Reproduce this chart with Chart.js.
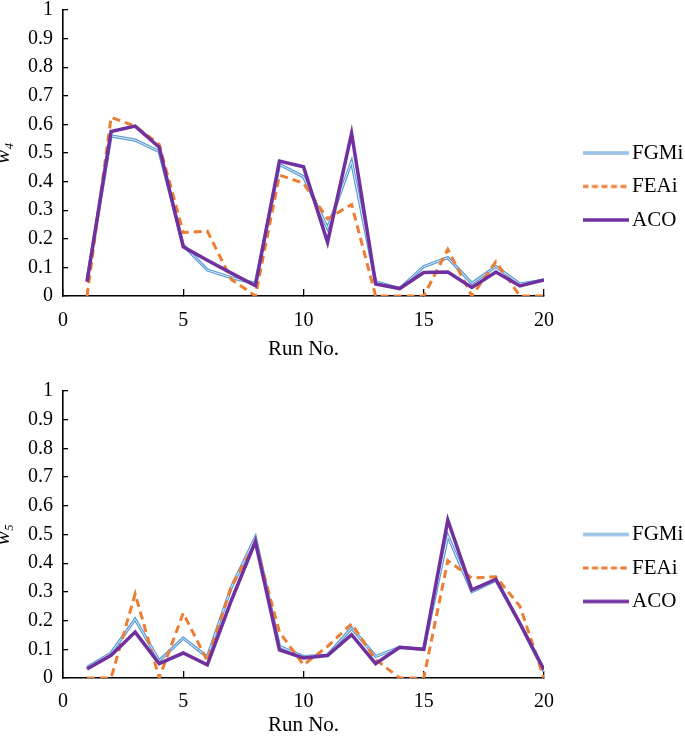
<!DOCTYPE html>
<html>
<head>
<meta charset="utf-8">
<script src="https://cdn.jsdelivr.net/npm/chart.js@4.4.1/dist/chart.umd.min.js"></script>
<style>
  html, body { margin: 0; padding: 0; background: #fff; }
  #wrap { position: relative; width: 685px; height: 739px; }
  canvas { position: absolute; left: 0; }
</style>
</head>
<body>
<div id="wrap">
  <canvas id="chartW4" width="685" height="370" style="top:0"></canvas>
  <canvas id="chartW5" width="685" height="369" style="top:370px"></canvas>
</div>
<script>
// run numbers on the x axis
const runs = [1, 2, 3, 4, 5, 6, 7, 8, 9, 10, 11, 12, 13, 14, 15, 16, 17, 18, 19, 20];
const seriesNames = ['FGMi', 'FEAi', 'ACO'];

// weight w4 per run
const w4FGMi = [0.055, 0.56, 0.545, 0.505, 0.178, 0.091, 0.064, 0.044, 0.46, 0.417, 0.237, 0.47, 0.05, 0.026, 0.103, 0.134, 0.044, 0.103, 0.042, 0.056];
const w4FEAi = [0, 0.625, 0.594, 0.53, 0.222, 0.227, 0.058, 0, 0.423, 0.394, 0.27, 0.32, 0, 0, 0, 0.163, 0, 0.12, 0, 0];
const w4ACO  = [0.05, 0.575, 0.594, 0.52, 0.172, 0.125, 0.08, 0.036, 0.472, 0.452, 0.188, 0.569, 0.042, 0.026, 0.082, 0.084, 0.03, 0.084, 0.035, 0.056];

// weight w5 per run
const w5FGMi = [0.037, 0.087, 0.205, 0.06, 0.139, 0.073, 0.316, 0.49, 0.11, 0.075, 0.08, 0.174, 0.075, 0.107, 0.1, 0.496, 0.301, 0.34, 0.19, 0.023];
const w5FEAi = [0, 0, 0.293, 0, 0.226, 0.06, 0.32, 0.47, 0.16, 0.046, 0.11, 0.189, 0.064, 0, 0, 0.409, 0.348, 0.353, 0.25, 0];
const w5ACO  = [0.031, 0.079, 0.16, 0.05, 0.087, 0.046, 0.27, 0.475, 0.098, 0.07, 0.078, 0.151, 0.05, 0.107, 0.1, 0.55, 0.307, 0.344, 0.19, 0.029];

const blue = '#5b9bd5';
const blueCore = '#dfeaf6';
const orange = '#ed7d31';
const purple = '#7030a0';
const serif = "'Liberation Serif', 'Times New Roman', serif";

Chart.defaults.font.family = serif;
Chart.defaults.color = '#000';

function points(values) {
  return values.map((v, i) => ({ x: runs[i], y: v }));
}

// small canvases used as legend samples
function sample(kind) {
  const c = document.createElement('canvas');
  c.width = 46;
  c.height = 8;
  const g = c.getContext('2d');
  g.beginPath();
  g.moveTo(0, 4);
  g.lineTo(46, 4);
  if (kind === 'FGMi') {
    g.strokeStyle = blue; g.lineWidth = 3.2; g.stroke();
    g.strokeStyle = blueCore; g.lineWidth = 1; g.stroke();
  } else if (kind === 'FEAi') {
    g.setLineDash([6, 3.5]);
    g.strokeStyle = orange; g.lineWidth = 3; g.stroke();
  } else {
    g.strokeStyle = purple; g.lineWidth = 3.5; g.stroke();
  }
  return c;
}

// put the legend next to the plot, starting at its vertical middle
const legendPlace = {
  id: 'legendPlace',
  afterLayout(chart) {
    const lg = chart.legend;
    const a = chart.chartArea;
    const pad = lg.options.labels.padding;
    lg.left = a.right + 45.5 - pad;
    lg.right = chart.width;
    lg.width = lg.right - lg.left;
    lg.top = (a.top + a.bottom) / 2 - 23;
    lg.bottom = chart.height;
    lg.height = lg.bottom - lg.top;
  }
};

function makeChart(id, label, fgmi, feai, aco, opts) {
  return new Chart(document.getElementById(id), {
    type: 'line',
    data: {
      datasets: [
        { label: seriesNames[0], data: points(fgmi), borderColor: blue, borderWidth: 3.2, pointRadius: 0, pointStyle: sample('FGMi'), order: 3 },
        { label: seriesNames[1], data: points(feai), borderColor: orange, borderWidth: 3, borderDash: [8, 5], pointRadius: 0, pointStyle: sample('FEAi'), order: 1 },
        { label: seriesNames[2], data: points(aco), borderColor: purple, borderWidth: 3.5, pointRadius: 0, pointStyle: sample('ACO'), order: 0 },
        { label: 'core', data: points(fgmi), borderColor: blueCore, borderWidth: 1, pointRadius: 0, order: 2 }
      ]
    },
    options: {
      responsive: false,
      animation: false,
      devicePixelRatio: 1,
      layout: { padding: { top: opts.padTop, right: 41, bottom: 0, left: 0 } },
      plugins: {
        tooltip: { enabled: false },
        legend: {
          position: 'right',
          align: 'start',
          maxWidth: 100,
          labels: {
            usePointStyle: true,
            pointStyleWidth: 32,
            padding: 12.5,
            color: '#000',
            font: { size: 21, family: serif },
            filter: item => item.datasetIndex < 3,
            sort: (a, b) => a.datasetIndex - b.datasetIndex
          }
        }
      },
      scales: {
        x: {
          type: 'linear',
          min: 0,
          max: 20,
          afterFit: s => { s.height = opts.xHeight; },
          ticks: { stepSize: 5, padding: opts.xTickPad, font: { size: 20, lineHeight: 1 }, color: '#000', maxRotation: 0 },
          grid: { display: true, drawOnChartArea: false, drawTicks: true, tickLength: -7, color: '#000', lineWidth: 1.3 },
          border: { display: true, color: '#000', width: 1.6 },
          title: { display: true, text: 'Run No.', font: { size: 21, lineHeight: 1 }, color: '#000', padding: { top: 0, bottom: opts.titlePad } }
        },
        y: {
          min: 0,
          max: 1,
          afterFit: s => { s.width = 63; s.paddingTop = 0; s.paddingBottom = 0; },
          ticks: { stepSize: 0.1, padding: 15, font: { size: 20, lineHeight: 1 }, color: '#000', callback: v => String(+v.toFixed(1)) },
          grid: { display: true, drawOnChartArea: false, drawTicks: true, tickLength: -5, color: '#000', lineWidth: 1.3 },
          border: { display: true, color: '#000', width: 1.6 },
          title: { display: true, text: label, font: { size: 21, style: 'italic', lineHeight: 1 }, color: '#000', padding: { top: -7.5, bottom: 0 } }
        }
      }
    },
    plugins: [legendPlace]
  });
}

makeChart('chartW4', 'w\u2084', w4FGMi, w4FEAi, w4ACO, { padTop: 10, xHeight: 74, xTickPad: 22, titlePad: 10.5 });
makeChart('chartW5', 'w\u2085', w5FGMi, w5FEAi, w5ACO, { padTop: 21, xHeight: 61, xTickPad: 21, titlePad: 3.5 });
</script>
</body>
</html>
